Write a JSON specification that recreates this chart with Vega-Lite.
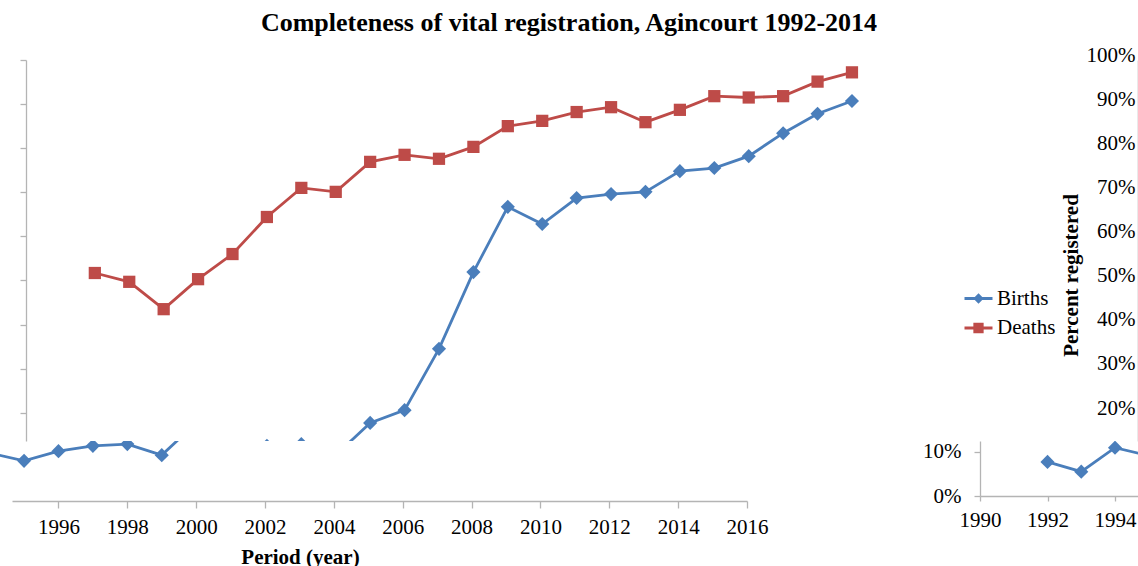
{
  "$schema": "https://vega.github.io/schema/vega-lite/v6.json",
  "background": "white",
  "padding": 0,
  "spacing": 0,
  "bounds": "flush",
  "datasets": {
    "reg": [
      {"year": 1992, "series": "Births", "value": 0.077},
      {"year": 1993, "series": "Births", "value": 0.055},
      {"year": 1994, "series": "Births", "value": 0.109},
      {"year": 1995, "series": "Births", "value": 0.091},
      {"year": 1996, "series": "Births", "value": 0.113},
      {"year": 1997, "series": "Births", "value": 0.125},
      {"year": 1998, "series": "Births", "value": 0.129},
      {"year": 1999, "series": "Births", "value": 0.104},
      {"year": 2000, "series": "Births", "value": 0.177},
      {"year": 2001, "series": "Births", "value": 0.206},
      {"year": 2002, "series": "Births", "value": 0.345},
      {"year": 2003, "series": "Births", "value": 0.519},
      {"year": 2004, "series": "Births", "value": 0.667},
      {"year": 2005, "series": "Births", "value": 0.628},
      {"year": 2006, "series": "Births", "value": 0.687},
      {"year": 2007, "series": "Births", "value": 0.696},
      {"year": 2008, "series": "Births", "value": 0.701},
      {"year": 2009, "series": "Births", "value": 0.748},
      {"year": 2010, "series": "Births", "value": 0.755},
      {"year": 2011, "series": "Births", "value": 0.782},
      {"year": 2012, "series": "Births", "value": 0.834},
      {"year": 2013, "series": "Births", "value": 0.878},
      {"year": 2014, "series": "Births", "value": 0.907},
      {"year": 1992, "series": "Deaths", "value": 0.517},
      {"year": 1993, "series": "Deaths", "value": 0.497},
      {"year": 1994, "series": "Deaths", "value": 0.435},
      {"year": 1995, "series": "Deaths", "value": 0.503},
      {"year": 1996, "series": "Deaths", "value": 0.560},
      {"year": 1997, "series": "Deaths", "value": 0.644},
      {"year": 1998, "series": "Deaths", "value": 0.710},
      {"year": 1999, "series": "Deaths", "value": 0.701},
      {"year": 2000, "series": "Deaths", "value": 0.769},
      {"year": 2001, "series": "Deaths", "value": 0.785},
      {"year": 2002, "series": "Deaths", "value": 0.776},
      {"year": 2003, "series": "Deaths", "value": 0.803},
      {"year": 2004, "series": "Deaths", "value": 0.850},
      {"year": 2005, "series": "Deaths", "value": 0.862},
      {"year": 2006, "series": "Deaths", "value": 0.882},
      {"year": 2007, "series": "Deaths", "value": 0.893},
      {"year": 2008, "series": "Deaths", "value": 0.859},
      {"year": 2009, "series": "Deaths", "value": 0.887},
      {"year": 2010, "series": "Deaths", "value": 0.918},
      {"year": 2011, "series": "Deaths", "value": 0.915},
      {"year": 2012, "series": "Deaths", "value": 0.918},
      {"year": 2013, "series": "Deaths", "value": 0.951},
      {"year": 2014, "series": "Deaths", "value": 0.972}
    ]
  },
  "config": {
    "view": {"stroke": null},
    "axis": {
      "grid": false,
      "domainColor": "#b4b4b4",
      "tickColor": "#b4b4b4",
      "domainWidth": 1.3,
      "tickWidth": 1.3,
      "labelFont": "Liberation Serif",
      "labelFontSize": 21,
      "labelColor": "#000000",
      "labelFlush": false,
      "labelOverlap": false,
      "titleFont": "Liberation Serif",
      "titleFontSize": 21,
      "titleFontWeight": "bold",
      "titleColor": "#000000"
    },
    "legend": {
      "orient": "none",
      "legendX": 963,
      "legendY": 283,
      "symbolSize": 784,
      "symbolStrokeWidth": 3,
      "symbolOpacity": 1,
      "labelFont": "Liberation Serif",
      "labelFontSize": 21,
      "labelColor": "#000000",
      "labelOffset": 3,
      "rowPadding": 3.5,
      "padding": 0,
      "titlePadding": 0
    }
  },
  "resolve": {"legend": {"fill": "independent", "stroke": "independent", "shape": "independent"}},
  "vconcat": [
    {
      "width": 1138,
      "height": 441,
      "title": {
        "text": "Completeness of vital registration, Agincourt 1992-2014",
        "font": "Liberation Serif",
        "fontSize": 26,
        "fontWeight": "bold",
        "color": "#000000",
        "frame": "group",
        "anchor": "middle",
        "baseline": "alphabetic",
        "offset": -57
      },
      "data": {"name": "reg"},
      "layer": [
        {
          "mark": {"type": "line", "clip": true, "strokeWidth": 2.8},
          "encoding": {
            "x": {"field": "year", "type": "quantitative", "scale": {"domain": [1990, 2016], "range": [26, 920.8], "nice": false, "zero": false}, "axis": null},
            "y": {"field": "value", "type": "quantitative", "scale": {"domain": [0.13605, 1], "range": [441, 60], "nice": false, "zero": false},
                  "axis": {"orient": "left", "offset": -26, "values": [0.2, 0.3, 0.4, 0.5, 0.6, 0.7, 0.8, 0.9, 1.0], "labels": false, "tickSize": 6, "title": null}},
            "color": {"field": "series", "type": "nominal", "scale": {"domain": ["Births", "Deaths"], "range": ["#4a7ebb", "#be4b48"]}, "legend": null}
          }
        },
        {
          "transform": [{"filter": "datum.series === 'Births'"}],
          "mark": {"type": "point", "clip": true, "filled": true, "opacity": 1, "shape": "diamond", "size": 200, "color": "#4a7ebb"},
          "encoding": {
            "x": {"field": "year", "type": "quantitative"},
            "y": {"field": "value", "type": "quantitative"}
          }
        },
        {
          "transform": [{"filter": "datum.series === 'Deaths'"}],
          "mark": {"type": "point", "clip": true, "filled": true, "opacity": 1, "shape": "square", "size": 150, "color": "#be4b48"},
          "encoding": {
            "x": {"field": "year", "type": "quantitative"},
            "y": {"field": "value", "type": "quantitative"}
          }
        },
        {
          "transform": [{"filter": "false"}],
          "mark": {"type": "point", "filled": true, "strokeWidth": 3},
          "encoding": {
            "x": {"field": "year", "type": "quantitative"},
            "y": {"field": "value", "type": "quantitative",
                  "axis": {"orient": "right", "offset": 0, "values": [0.2, 0.3, 0.4, 0.5, 0.6, 0.7, 0.8, 0.9, 1.0], "format": ".0%",
                           "ticks": false, "tickSize": 0, "domain": false, "labelAlign": "right", "labelPadding": -3, "labelOffset": -4.7,
                           "title": "Percent registered", "titleAngle": 270, "titleX": -61, "titleY": 275, "titleBaseline": "alphabetic", "titleAlign": "center"}},
            "fill": {"field": "series", "type": "nominal", "scale": {"domain": ["Births", "Deaths"], "range": ["#4a7ebb", "#be4b48"]},
                     "legend": {"title": null, "orient": "none", "legendX": 963, "legendY": 283}},
            "stroke": {"field": "series", "type": "nominal", "scale": {"domain": ["Births", "Deaths"], "range": ["#4a7ebb", "#be4b48"]},
                     "legend": {"title": null, "orient": "none", "legendX": 963, "legendY": 283}},
            "shape": {"field": "series", "type": "nominal", "scale": {"domain": ["Births", "Deaths"], "range": ["M-1,0L1,0M0,-0.22L0.22,0L0,0.22L-0.22,0Z", "M-1,0L1,0M-0.26,-0.26L0.26,-0.26L0.26,0.26L-0.26,0.26Z"]},
                     "legend": {"title": null, "orient": "none", "legendX": 963, "legendY": 283}}
          }
        }
      ],
      "resolve": {"axis": {"y": "independent"}}
    },
    {
      "width": 1138,
      "height": 125,
      "data": {"name": "reg"},
      "layer": [
        {
          "layer": [
            {
              "mark": {"type": "line", "clip": true, "strokeWidth": 2.8},
              "encoding": {
                "x": {"field": "year", "type": "quantitative", "scale": {"domain": [1994.65, 2016], "range": [12, 747], "nice": false, "zero": false},
                      "axis": {"orient": "bottom", "offset": -65, "values": [1996, 1998, 2000, 2002, 2004, 2006, 2008, 2010, 2012, 2014, 2016], "format": "d",
                               "tickSize": 7, "labelPadding": 8, "title": "Period (year)", "titleX": 300, "titleY": 62, "titleBaseline": "alphabetic", "titleAlign": "center"}},
                "y": {"field": "value", "type": "quantitative", "scale": {"domain": [0, 0.13605], "range": [60, 0], "nice": false, "zero": false}, "axis": null},
                "color": {"field": "series", "type": "nominal", "scale": {"domain": ["Births", "Deaths"], "range": ["#4a7ebb", "#be4b48"]}, "legend": null}
              }
            },
            {
              "transform": [{"filter": "datum.series === 'Births'"}],
              "mark": {"type": "point", "clip": true, "filled": true, "opacity": 1, "shape": "diamond", "size": 200, "color": "#4a7ebb"},
              "encoding": {
                "x": {"field": "year", "type": "quantitative"},
                "y": {"field": "value", "type": "quantitative"}
              }
            }
          ]
        },
        {
          "layer": [
            {
              "mark": {"type": "line", "clip": true, "strokeWidth": 2.8},
              "encoding": {
                "x": {"field": "year", "type": "quantitative", "scale": {"domain": [1990, 1994.681], "range": [980, 1138], "nice": false, "zero": false},
                      "axis": {"orient": "bottom", "offset": -70, "values": [1990, 1992, 1994], "format": "d", "tickSize": 5, "labelPadding": 8, "title": null}},
                "y": {"field": "value", "type": "quantitative", "scale": {"domain": [0, 0.12415], "range": [55, 0], "nice": false, "zero": false},
                      "axis": {"orient": "left", "offset": -980, "values": [0, 0.1], "format": ".0%", "tickSize": 6, "labelPadding": 13, "title": null}},
                "color": {"field": "series", "type": "nominal", "legend": null}
              }
            },
            {
              "transform": [{"filter": "datum.series === 'Births'"}],
              "mark": {"type": "point", "clip": true, "filled": true, "opacity": 1, "shape": "diamond", "size": 200, "color": "#4a7ebb"},
              "encoding": {
                "x": {"field": "year", "type": "quantitative"},
                "y": {"field": "value", "type": "quantitative"}
              }
            }
          ]
        }
      ],
      "resolve": {"scale": {"x": "independent", "y": "independent"}, "axis": {"x": "independent", "y": "independent"}}
    }
  ]
}
